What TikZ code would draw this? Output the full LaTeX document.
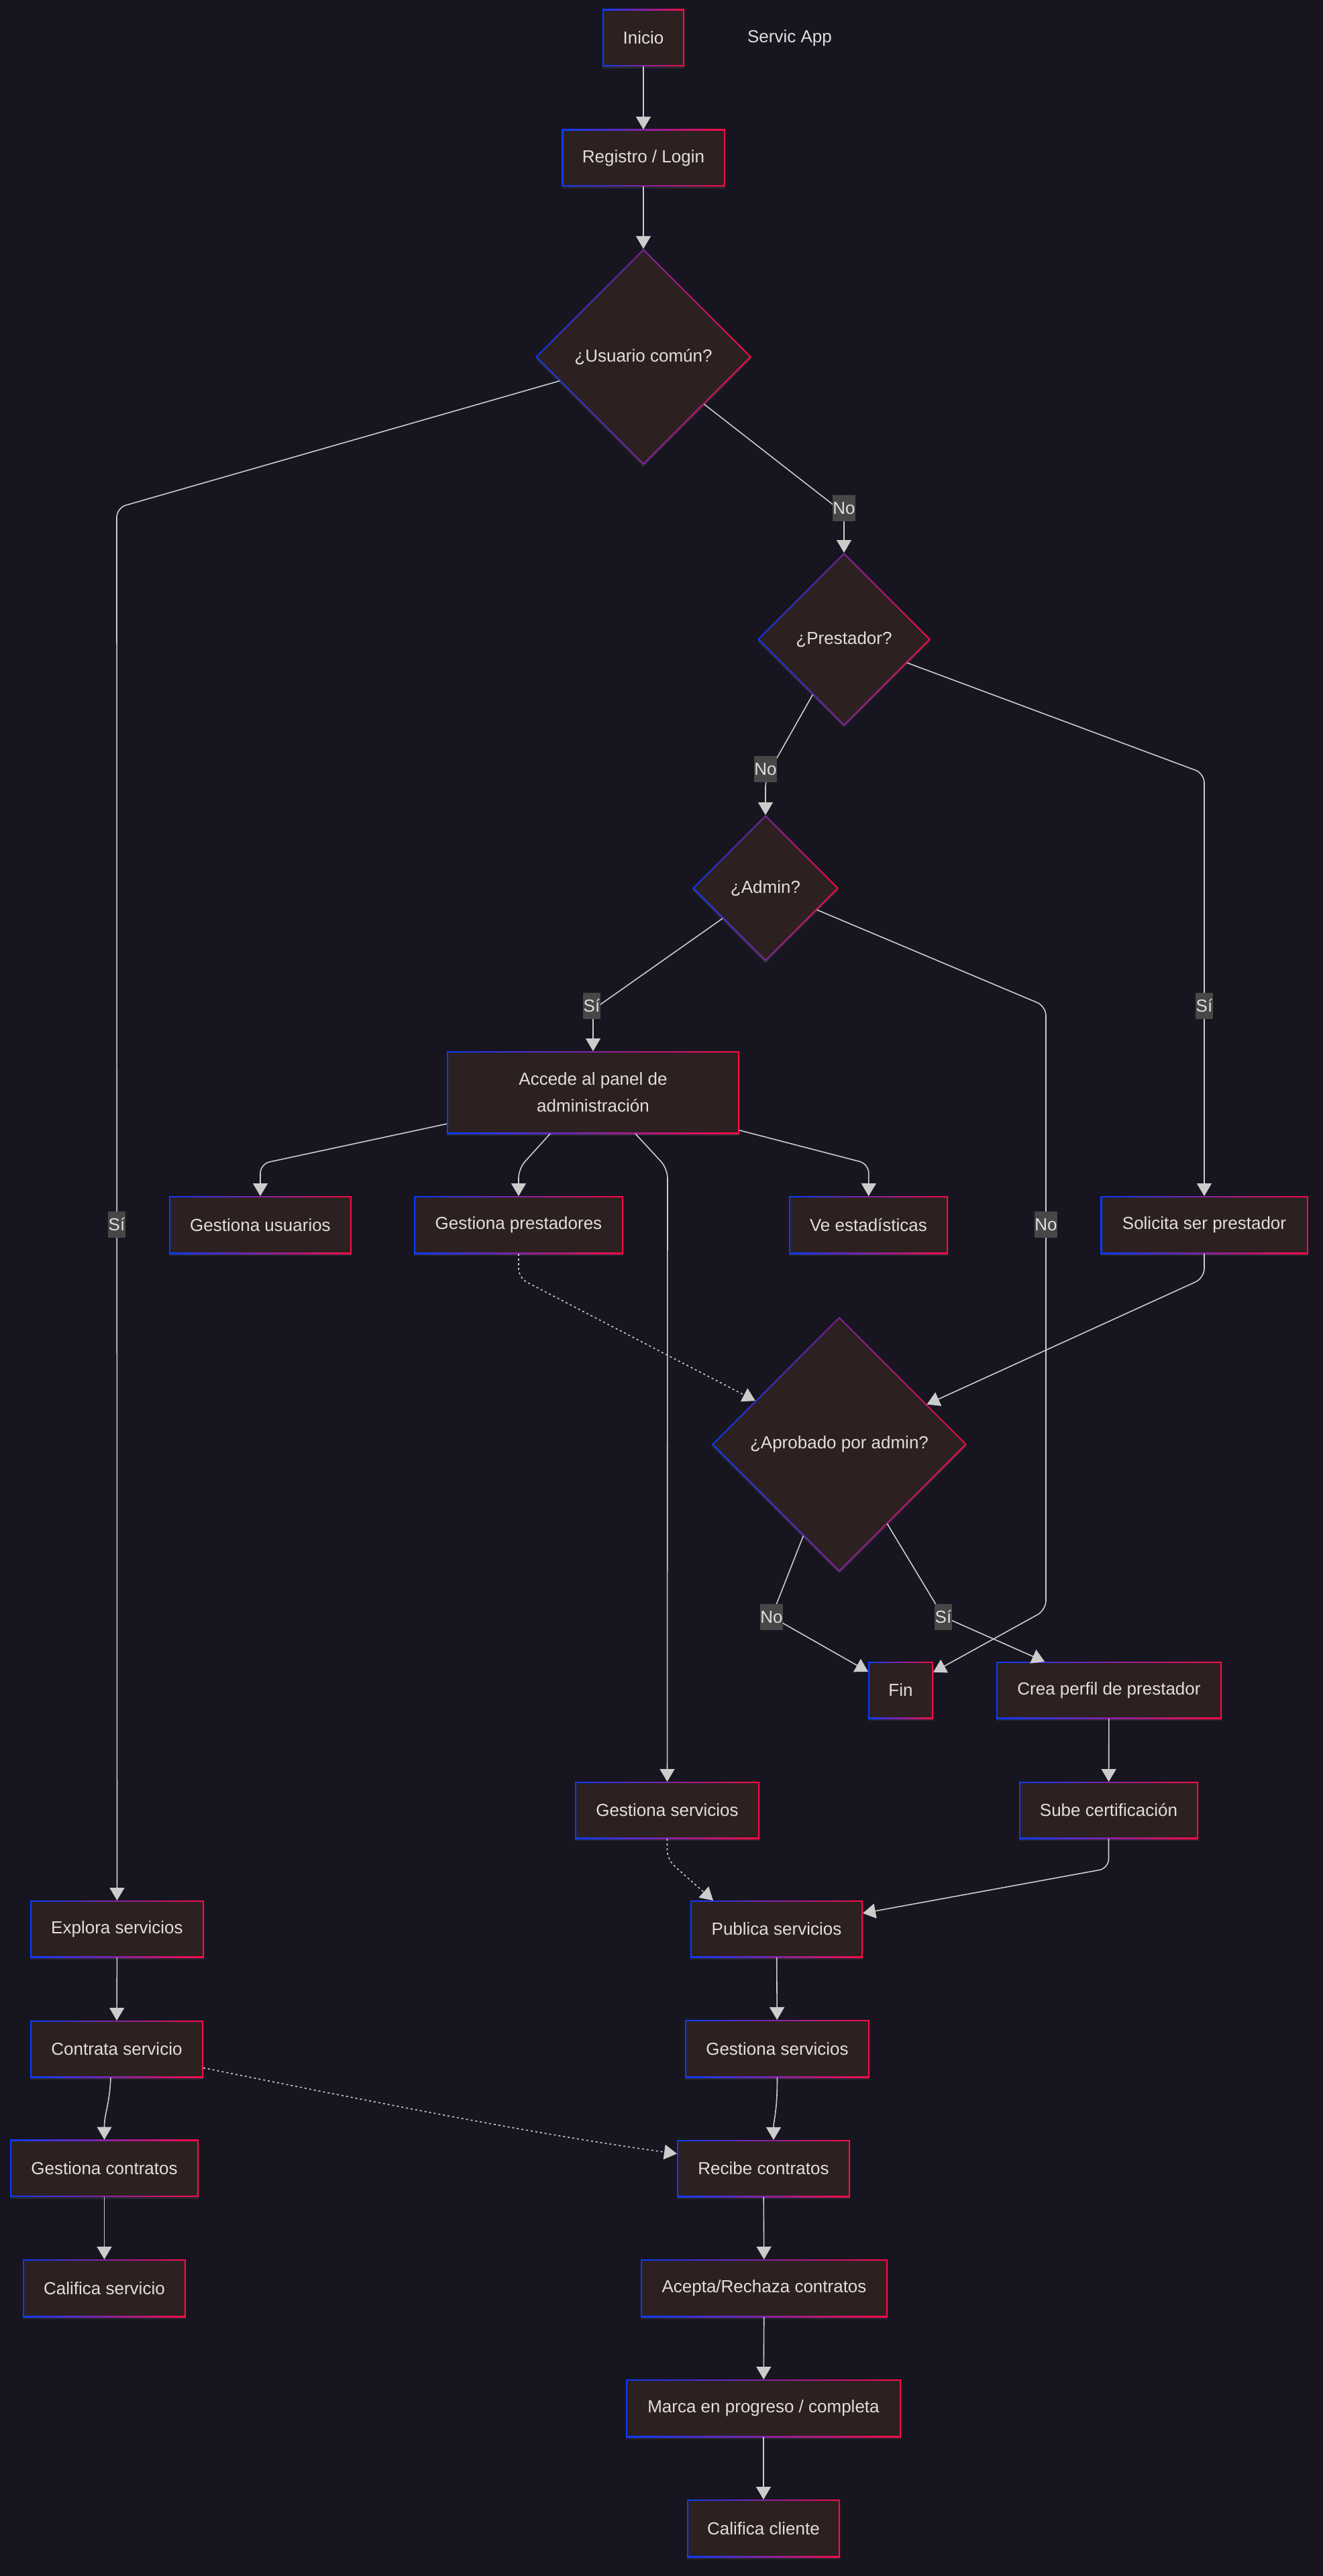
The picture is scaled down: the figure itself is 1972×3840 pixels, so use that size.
\documentclass[tikz,border=0pt]{standalone}
\usepackage{fontspec}
\setmainfont{Liberation Sans}
\usetikzlibrary{arrows.meta,shapes.geometric,shadows}
\definecolor{bgcol}{HTML}{17151F}
\definecolor{nodefill}{HTML}{2C2120}
\definecolor{gblue}{HTML}{0A3CFF}
\definecolor{gred}{HTML}{FF0A46}
\definecolor{txt}{HTML}{E2DEDE}
\definecolor{edgecol}{HTML}{CCCCCC}
\definecolor{lblbg}{HTML}{474747}
\tikzset{
  nbase/.style={inner sep=0pt, outer sep=0pt, text=txt, font=\fontsize{26}{40}\selectfont, align=center,
    drop shadow={shadow xshift=0pt,shadow yshift=-3pt,opacity=0.12,fill=gray!60}},
  gbox/.style 2 args={nbase, rectangle, minimum width=#1, minimum height=#2, path picture={
     \shade[left color=gblue,right color=gred] (path picture bounding box.south west) rectangle (path picture bounding box.north east);
     \fill[nodefill] ([shift={(2pt,2pt)}]path picture bounding box.south west) rectangle ([shift={(-2pt,-2pt)}]path picture bounding box.north east);}},
  gdia/.style={nbase, diamond, aspect=1, minimum width=#1, minimum height=#1, path picture={
     \shade[left color=gblue,right color=gred] (path picture bounding box.south west) rectangle (path picture bounding box.north east);
     \fill[nodefill] ([yshift=-2.83pt]path picture bounding box.north) -- ([xshift=-2.83pt]path picture bounding box.east) -- ([yshift=2.83pt]path picture bounding box.south) -- ([xshift=2.83pt]path picture bounding box.west) -- cycle;}},
  arr/.style={draw=edgecol, line width=1.6pt, -{Triangle[length=19pt,width=22pt]}, rounded corners=14pt},
  dotarr/.style={arr, dash pattern=on 3pt off 4pt},
  lbl/.style={fill=lblbg, text=txt, inner xsep=0.5pt, inner ysep=4.5pt, text height=24pt, text depth=6pt, font=\fontsize{26}{30}\selectfont},
}
\begin{document}
\begin{tikzpicture}[x=1pt,y=-1pt]
\fill[bgcol] (0,0) rectangle (1972,3840);
\useasboundingbox (0,0) rectangle (1972,3840);

\node[gbox={122pt}{85pt}] (inicio) at (959,56.5) {Inicio};
\node[text=txt, font=\fontsize{26}{30}\selectfont] (title) at (1177,57) {Servic App};
\node[gbox={243pt}{85pt}] (reg) at (959,235.5) {Registro / Login};
\node[gdia=322pt] (usr) at (959,532) {¿Usuario común?};
\node[gdia=258pt] (pre) at (1258,953) {¿Prestador?};
\node[gdia=218pt] (adm) at (1141,1324) {¿Admin?};
\node[gbox={436pt}{123pt}] (acc) at (884,1628.5) {Accede al panel de\\administración};
\node[gbox={272pt}{86pt}] (gusu) at (388,1826) {Gestiona usuarios};
\node[gbox={312pt}{86pt}] (gpre) at (773,1826) {Gestiona prestadores};
\node[gbox={237pt}{86pt}] (vest) at (1294.5,1826) {Ve estadísticas};
\node[gbox={309pt}{86pt}] (sol) at (1795,1826) {Solicita ser prestador};
\node[gdia=380pt] (apr) at (1251,2153) {¿Aprobado por admin?};
\node[gbox={97pt}{85pt}] (fin) at (1342.5,2519.5) {Fin};
\node[gbox={336pt}{85pt}] (crea) at (1653,2519.5) {Crea perfil de prestador};
\node[gbox={275pt}{85pt}] (gsm) at (994.5,2698.5) {Gestiona servicios};
\node[gbox={267pt}{85pt}] (sube) at (1652.5,2698.5) {Sube certificación};
\node[gbox={259pt}{85pt}] (expl) at (174.5,2875.5) {Explora servicios};
\node[gbox={258pt}{85pt}] (cont) at (174,3054.5) {Contrata servicio};
\node[gbox={281pt}{85pt}] (gcon) at (155.5,3232) {Gestiona contratos};
\node[gbox={243pt}{86pt}] (calsv) at (155.5,3411) {Califica servicio};
\node[gbox={257pt}{85pt}] (pub) at (1157.5,2875.5) {Publica servicios};
\node[gbox={275pt}{86pt}] (gsr) at (1158.5,3054) {Gestiona servicios};
\node[gbox={258pt}{85pt}] (rec) at (1138,3232.5) {Recibe contratos};
\node[gbox={368pt}{86pt}] (acep) at (1139,3411) {Acepta/Rechaza contratos};
\node[gbox={410pt}{86pt}] (marca) at (1138,3590) {Marca en progreso / completa};
\node[gbox={228pt}{86pt}] (calcl) at (1138,3769) {Califica cliente};

\draw[arr] (inicio) -- (reg);
\draw[arr] (reg) -- (usr);
\draw[arr] (usr) -- (174,757) -- (expl);
\draw[arr] (usr) -- (1258,765) -- (pre);
\draw[arr] (pre) -- (1141,1160) -- (adm);
\draw[arr] (pre) -- (1795,1153) -- (sol);
\draw[arr] (adm) -- (884,1505) -- (acc);
\draw[arr] (adm) -- (1559,1500) -- (1559,2400) -- (fin);
\draw[arr] (acc) -- (388,1735) -- (gusu);
\draw[arr] ([xshift=-64pt]acc.south) -- (773,1742) -- (gpre);
\draw[arr] (acc) -- (1295,1735) -- (vest);
\draw[arr] ([xshift=63pt]acc.south) -- (995,1742) -- (gsm);
\draw[dotarr] (gpre) -- (773,1905) -- (apr);
\draw[arr] (sol) -- (1795,1905) -- (apr);
\draw[arr] (apr) -- (1150,2410) -- (fin);
\draw[arr] (apr) -- (1406,2410) -- (crea);
\draw[arr] (crea) -- (sube);
\draw[arr] (sube) -- (1652.5,2785) -- (pub);
\draw[dotarr] (gsm) -- (994.5,2772) -- ([xshift=34pt]pub.north west);
\draw[arr] (expl) -- (cont);
\draw[arr] ([xshift=-9pt]cont.south) .. controls (163,3140) and (155.5,3150) .. (gcon.north);
\draw[dotarr] ([yshift=-28pt]cont.east) .. controls (550,3132) and (800,3182) .. ([yshift=22pt]rec.west);
\draw[arr] (pub) -- (gsr);
\draw[arr] (gsr.south) .. controls (1158.5,3150) and (1153,3160) .. ([xshift=15pt]rec.north);
\draw[arr] (rec) -- (acep);
\draw[arr] (acep) -- (marca);
\draw[arr] (marca) -- (calcl);
\draw[arr] (gcon) -- (calsv);

\node[lbl] (l1) at (174,1825) {Sí};
\node[lbl] (l2) at (1258,757) {No};
\node[lbl] (l3) at (1141,1146) {No};
\node[lbl] (l4) at (1795,1499) {Sí};
\node[lbl] (l5) at (882,1499) {Sí};
\node[lbl] (l6) at (1559,1825) {No};
\node[lbl] (l7) at (1150,2410) {No};
\node[lbl] (l8) at (1406,2410) {Sí};
\end{tikzpicture}
\end{document}
